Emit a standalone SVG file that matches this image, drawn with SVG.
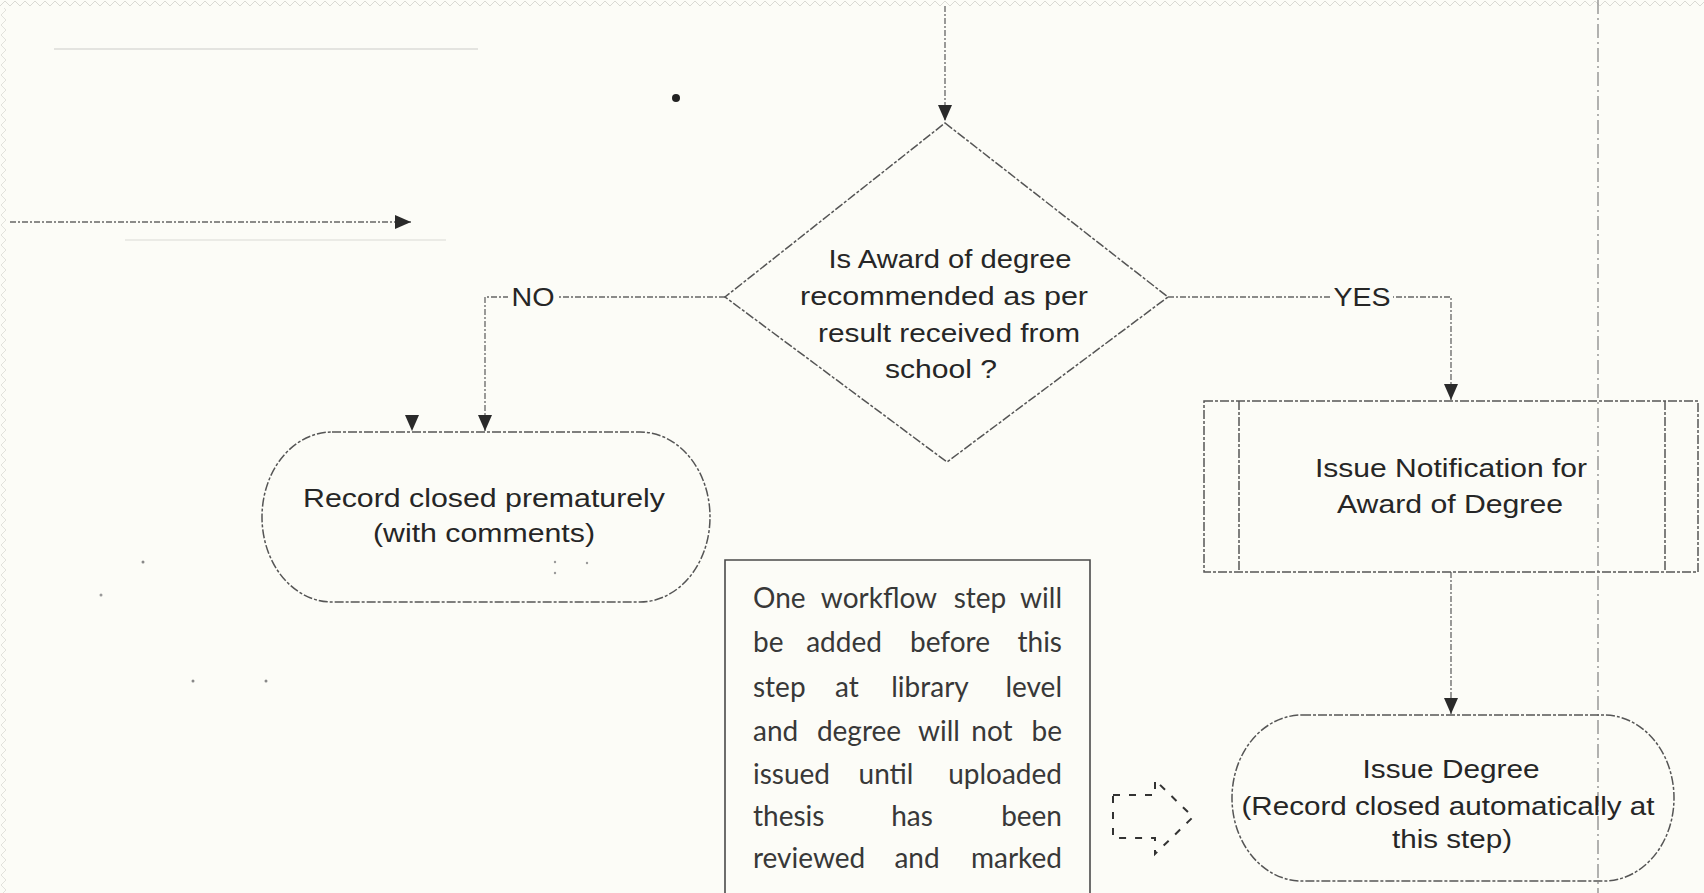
<svg xmlns="http://www.w3.org/2000/svg" width="1704" height="893" viewBox="0 0 1704 893">
  <defs>
    <style>
      .lbl{font-family:"Liberation Sans",Arial,sans-serif;font-size:25px;fill:#262626;text-anchor:middle}
      .note{font-family:Lato,"Open Sans",sans-serif;font-size:28px;fill:#383838}
      .mid{text-anchor:middle}
      .end{text-anchor:end}
      .conn{fill:none;stroke:#666;stroke-width:1.3;stroke-dasharray:6 2 2 2}
      .edge{fill:none;stroke:#555;stroke-width:1.5;stroke-dasharray:9 2 3 2}
      .solid{fill:none;stroke:#4a4a4a;stroke-width:1.6}
    </style>
    <marker id="ah" markerUnits="userSpaceOnUse" markerWidth="16" markerHeight="16" viewBox="0 0 16 16" refX="16" refY="8" orient="auto">
      <path d="M0,1 L16,8 L0,15 Z" fill="#2a2a2a"/>
    </marker>
    <pattern id="zzTop" width="10" height="8" patternUnits="userSpaceOnUse">
      <path d="M0,6 L5,1 L10,6" fill="none" stroke="#dadad4" stroke-width="1"/>
    </pattern>
    <pattern id="zzLeft" width="8" height="10" patternUnits="userSpaceOnUse">
      <path d="M6,0 L1,5 L6,10" fill="none" stroke="#e2e2dc" stroke-width="1"/>
    </pattern>
  </defs>

  <!-- paper -->
  <rect x="0" y="0" width="1704" height="893" fill="#fcfcf7"/>
  <rect x="0" y="0" width="1704" height="8" fill="url(#zzTop)"/>
  <rect x="0" y="8" width="8" height="885" fill="url(#zzLeft)"/>

  <!-- faint traces and specks -->
  <g id="traces">
    <path d="M54,49 H478" stroke="#e4e4e0" stroke-width="2" fill="none"/>
    <path d="M125,240 H446" stroke="#ebebe6" stroke-width="2" fill="none"/>
    <circle cx="676" cy="98" r="4" fill="#222"/>
    <circle cx="143" cy="562" r="1.5" fill="#888"/>
    <circle cx="101" cy="595" r="1.5" fill="#999"/>
    <circle cx="193" cy="681" r="1.5" fill="#888"/>
    <circle cx="266" cy="681" r="1.5" fill="#888"/>
    <circle cx="555" cy="562" r="1.2" fill="#999"/>
    <circle cx="587" cy="563" r="1.2" fill="#999"/>
    <circle cx="555" cy="573" r="1.2" fill="#999"/>
  </g>

  <!-- lane divider -->
  <path id="lane" d="M1598,0 V893" fill="none" stroke="#8a8a8a" stroke-width="1.3" stroke-dasharray="14 4 2 4"/>

  <!-- connectors -->
  <g id="connectors">
    <path class="conn" d="M945,6 V121" marker-end="url(#ah)"/>
    <path class="conn" d="M10,222 H411" marker-end="url(#ah)"/>
    <path class="conn" d="M725,297 H485 V431" marker-end="url(#ah)"/>
    <path d="M412,418 V431" fill="none" stroke="#e6e6e0" stroke-width="1" marker-end="url(#ah)"/>
    <path class="conn" d="M1168,297 H1451 V400" marker-end="url(#ah)"/>
    <path class="conn" d="M1451,572 V714" marker-end="url(#ah)"/>
    <rect x="508" y="284" width="50" height="26" fill="#fcfcf7"/>
    <text class="lbl" x="533" y="306" textLength="43" lengthAdjust="spacingAndGlyphs">NO</text>
    <rect x="1331" y="284" width="62" height="26" fill="#fcfcf7"/>
    <text class="lbl" x="1362" y="306" textLength="57" lengthAdjust="spacingAndGlyphs">YES</text>
    <!-- dashed block arrow pointing to Issue Degree -->
    <path d="M1113,795 H1155 V780 L1193,817 L1155,854 V838 H1113 Z" fill="none" stroke="#333" stroke-width="2" stroke-dasharray="7 9"/>
  </g>

  <!-- decision -->
  <g id="decision">
    <polygon class="edge" points="945,123 1168,297 947,462 725,297"/>
    <text class="lbl" x="950" y="268" textLength="243" lengthAdjust="spacingAndGlyphs">Is Award of degree</text>
    <text class="lbl" x="944" y="305" textLength="288" lengthAdjust="spacingAndGlyphs">recommended as per</text>
    <text class="lbl" x="949" y="342" textLength="262" lengthAdjust="spacingAndGlyphs">result received from</text>
    <text class="lbl" x="941" y="378" textLength="112" lengthAdjust="spacingAndGlyphs">school ?</text>
  </g>

  <!-- terminal: closed prematurely -->
  <g id="record-closed">
    <rect class="edge" x="262" y="432" width="448" height="170" rx="70" ry="85"/>
    <text class="lbl" x="484" y="507" textLength="362" lengthAdjust="spacingAndGlyphs">Record closed prematurely</text>
    <text class="lbl" x="484" y="542" textLength="222" lengthAdjust="spacingAndGlyphs">(with comments)</text>
  </g>

  <!-- predefined process: notification -->
  <g id="issue-notification">
    <rect class="edge" x="1204" y="401" width="494" height="171"/>
    <path class="edge" d="M1239,401 V572 M1665,401 V572"/>
    <text class="lbl" x="1451" y="477" textLength="272" lengthAdjust="spacingAndGlyphs">Issue Notification for</text>
    <text class="lbl" x="1450" y="513" textLength="226" lengthAdjust="spacingAndGlyphs">Award of Degree</text>
  </g>

  <!-- terminal: issue degree -->
  <g id="issue-degree">
    <rect class="edge" x="1232" y="715" width="442" height="166" rx="70" ry="83"/>
    <text class="lbl" x="1451" y="778" textLength="177" lengthAdjust="spacingAndGlyphs">Issue Degree</text>
    <text class="lbl" x="1448" y="815" textLength="413" lengthAdjust="spacingAndGlyphs">(Record closed automatically at</text>
    <text class="lbl" x="1452" y="848" textLength="120" lengthAdjust="spacingAndGlyphs">this step)</text>
  </g>

  <!-- annotation box -->
  <g id="note">
    <path class="solid" d="M725,893 V560 H1090 V893"/>
    <g class="note">
      <text x="753" y="608">One</text>
      <text class="mid" x="879" y="608">workflow</text>
      <text class="mid" x="980" y="608">step</text>
      <text class="end" x="1062" y="608">will</text>

      <text x="753" y="652">be</text>
      <text class="mid" x="844" y="652">added</text>
      <text class="mid" x="950" y="652">before</text>
      <text class="end" x="1062" y="652">this</text>

      <text x="753" y="697">step</text>
      <text class="mid" x="847" y="697">at</text>
      <text class="mid" x="930" y="697">library</text>
      <text class="end" x="1062" y="697">level</text>

      <text x="753" y="741">and</text>
      <text class="mid" x="859" y="741">degree</text>
      <text class="mid" x="939" y="741">will</text>
      <text class="mid" x="992" y="741">not</text>
      <text class="end" x="1062" y="741">be</text>

      <text x="753" y="784">issued</text>
      <text class="mid" x="886" y="784">until</text>
      <text class="end" x="1062" y="784">uploaded</text>

      <text x="753" y="826">thesis</text>
      <text class="mid" x="912" y="826">has</text>
      <text class="end" x="1062" y="826">been</text>

      <text x="753" y="868">reviewed</text>
      <text class="mid" x="917" y="868">and</text>
      <text class="end" x="1062" y="868">marked</text>
    </g>
  </g>
</svg>
